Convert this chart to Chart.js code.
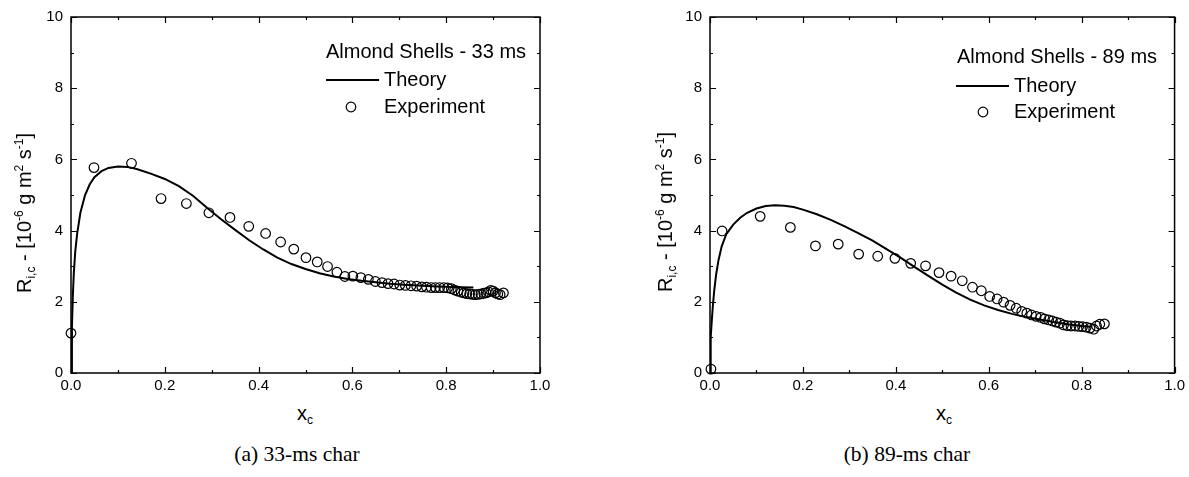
<!DOCTYPE html>
<html><head><meta charset="utf-8">
<script src="https://cdn.jsdelivr.net/npm/chart.js@4.4.1/dist/chart.umd.min.js"></script>
<style>
html,body{margin:0;padding:0;background:#fff;}
body{width:1189px;height:477px;overflow:hidden;position:relative;font-family:Arial,"Liberation Sans",sans-serif;color:#000;}
canvas{position:absolute;top:0;}
.ylab{position:absolute;font-size:20px;white-space:nowrap;transform:translate(-50%,-50%) rotate(-90deg);line-height:1;}
.xlab{position:absolute;font-size:20px;white-space:nowrap;transform:translate(-50%,-50%);line-height:1;}
.cap{position:absolute;font-family:"Liberation Serif","Times New Roman",serif;font-size:21.5px;white-space:nowrap;transform:translate(-50%,-50%);line-height:1;}
.sp{font-size:60%;position:relative;top:-0.7em;}
.sb{font-size:60%;position:relative;top:0.35em;}
</style>
</head><body>
<canvas id="cA" width="595" height="400" style="left:0px"></canvas>
<canvas id="cB" width="594" height="400" style="left:595px"></canvas>
<div class="ylab" style="left:24px;top:213px">R<span class="sb">i,c</span> - [10<span class="sp">-6</span> g m<span class="sp">2</span> s<span class="sp">-1</span>]</div>
<div class="ylab" style="left:665px;top:212px">R<span class="sb">i,c</span> - [10<span class="sp">-6</span> g m<span class="sp">2</span> s<span class="sp">-1</span>]</div>
<div class="xlab" style="left:305px;top:413px">x<span class="sb">c</span></div>
<div class="xlab" style="left:944px;top:413px">x<span class="sb">c</span></div>
<div class="cap" style="left:297px;top:455px">(a) 33-ms char</div>
<div class="cap" style="left:907px;top:455px">(b) 89-ms char</div>
<script>
// ---- Data ----
const xTickLabels = ['0.0','0.2','0.4','0.6','0.8','1.0'];
const yTickLabels = ['0','2','4','6','8','10'];
const xMinorTicks = [0.1,0.3,0.5,0.7,0.9];
const yMinorTicks = [1,3,5,7,9];

const theoryA_x = [0,0.002,0.004,0.006,0.009,0.013,0.02,0.03,0.04,0.05,0.065,0.08,0.1,0.12,0.14,0.17,0.2,0.23,0.26,0.29,0.32,0.35,0.38,0.41,0.44,0.47,0.5,0.53,0.56,0.59,0.62,0.65,0.68,0.71,0.74,0.77,0.8,0.83,0.858];
const theoryA_y = [0,1.3,2.2,2.8,3.4,3.9,4.5,5.0,5.3,5.5,5.67,5.76,5.80,5.79,5.73,5.6,5.45,5.25,4.98,4.64,4.32,4.02,3.73,3.47,3.24,3.06,2.92,2.80,2.71,2.64,2.59,2.55,2.51,2.48,2.46,2.44,2.42,2.41,2.40];
const expA_x = [0.000,0.049,0.129,0.192,0.246,0.294,0.339,0.379,0.415,0.447,0.475,0.501,0.525,0.547,0.567,0.584,0.601,0.618,0.634,0.649,0.663,0.676,0.689,0.701,0.713,0.725,0.737,0.748,0.758,0.768,0.777,0.786,0.795,0.803,0.811,0.818,0.825,0.832,0.838,0.844,0.850,0.856,0.862,0.868,0.874,0.880,0.885,0.890,0.895,0.900,0.905,0.910,0.915,0.922];
const expA_y = [1.12,5.77,5.89,4.90,4.76,4.50,4.37,4.12,3.92,3.68,3.48,3.24,3.12,2.99,2.83,2.71,2.72,2.68,2.63,2.57,2.54,2.51,2.50,2.47,2.46,2.45,2.44,2.42,2.41,2.40,2.40,2.40,2.40,2.39,2.37,2.33,2.30,2.27,2.25,2.23,2.22,2.21,2.20,2.21,2.22,2.24,2.25,2.28,2.32,2.30,2.25,2.22,2.20,2.25];

const theoryB_x = [0,0.001,0.002,0.004,0.006,0.009,0.013,0.018,0.025,0.035,0.05,0.065,0.08,0.1,0.12,0.14,0.16,0.18,0.2,0.23,0.26,0.29,0.32,0.35,0.38,0.41,0.44,0.47,0.5,0.53,0.56,0.59,0.62,0.65,0.68,0.71,0.74,0.77,0.8,0.82];
const theoryB_y = [0,0.6,1.0,1.5,1.86,2.3,2.75,3.15,3.55,3.9,4.17,4.36,4.5,4.62,4.69,4.71,4.70,4.66,4.59,4.46,4.3,4.12,3.92,3.72,3.48,3.24,2.98,2.73,2.48,2.26,2.06,1.9,1.77,1.66,1.57,1.5,1.43,1.37,1.32,1.3];
const expB_x = [0.002,0.026,0.108,0.173,0.227,0.276,0.320,0.361,0.398,0.432,0.464,0.493,0.519,0.543,0.565,0.584,0.602,0.618,0.632,0.646,0.659,0.671,0.682,0.692,0.702,0.712,0.720,0.729,0.737,0.745,0.753,0.761,0.769,0.777,0.786,0.794,0.802,0.810,0.818,0.826,0.832,0.839,0.849];
const expB_y = [0.11,3.99,4.40,4.09,3.57,3.62,3.34,3.28,3.22,3.08,3.01,2.82,2.72,2.59,2.41,2.31,2.15,2.08,1.99,1.90,1.82,1.73,1.68,1.63,1.59,1.56,1.52,1.49,1.46,1.43,1.40,1.35,1.33,1.32,1.32,1.31,1.30,1.29,1.26,1.23,1.32,1.37,1.38];

const FONT = 'Arial, "Liberation Sans", sans-serif';
Chart.defaults.font.family = FONT;
Chart.defaults.color = '#000';
const MARK_R = 4.8;

const framePlugin = {
  id: 'frame',
  afterDraw(chart, args, o) {
    const {ctx, chartArea: a, scales: {x, y}} = chart;
    ctx.save();
    ctx.strokeStyle = '#000';
    ctx.lineWidth = 1.2;
    ctx.beginPath();
    const xs = x.ticks.map(t => [t.value, 6]).concat(xMinorTicks.map(v => [v, 3]));
    xs.forEach(([v, L]) => {
      const px = Math.round(x.getPixelForValue(v)) + 0.5;
      ctx.moveTo(px, a.bottom); ctx.lineTo(px, a.bottom - L);
      ctx.moveTo(px, a.top); ctx.lineTo(px, a.top + L);
    });
    const ys = y.ticks.map(t => [t.value, 6]).concat(yMinorTicks.map(v => [v, 3]));
    ys.forEach(([v, L]) => {
      const py = Math.round(y.getPixelForValue(v)) + 0.5;
      ctx.moveTo(a.left, py); ctx.lineTo(a.left + L, py);
      ctx.moveTo(a.right, py); ctx.lineTo(a.right - L, py);
    });
    ctx.stroke();
    ctx.lineWidth = 1.5;
    ctx.strokeRect(a.left, a.top, a.right - a.left, a.bottom - a.top);
    // legend
    ctx.fillStyle = '#000';
    ctx.font = '20px ' + FONT;
    ctx.textBaseline = 'middle';
    ctx.textAlign = 'left';
    const L = a.left;
    ctx.fillText(o.title, L + o.tx, o.ty);
    ctx.lineWidth = 2;
    ctx.beginPath();
    ctx.moveTo(L + o.lx0, o.ly); ctx.lineTo(L + o.lx1, o.ly);
    ctx.stroke();
    ctx.fillText(chart.data.datasets[0].label, L + o.textx, o.ly);
    ctx.lineWidth = 1.2;
    ctx.beginPath();
    ctx.arc(L + o.cx, o.cy, MARK_R, 0, Math.PI * 2);
    ctx.stroke();
    ctx.fillText(chart.data.datasets[1].label, L + o.textx, o.cy);
    ctx.restore();
  }
};

function pts(xs, ys) { return xs.map((v, i) => ({x: v, y: ys[i]})); }

function makeChart(id, tx, ty, ex, ey, leg, yw, padR) {
  return new Chart(document.getElementById(id), {
    type: 'scatter',
    data: { datasets: [
      { label: 'Theory', data: pts(tx, ty), showLine: true, pointRadius: 0, pointHoverRadius: 0,
        borderColor: '#000', borderWidth: 2, tension: 0, fill: false },
      { label: 'Experiment', data: pts(ex, ey), showLine: false, pointRadius: MARK_R, pointHoverRadius: MARK_R,
        pointBorderWidth: 1.2, borderColor: '#000', backgroundColor: 'rgba(0,0,0,0)', clip: false }
    ]},
    options: {
      responsive: false, animation: false, devicePixelRatio: 1, events: [],
      layout: { padding: { left: 0, top: 16, right: padR, bottom: 0 } },
      plugins: { legend: { display: false }, tooltip: { enabled: false }, frame: leg },
      scales: {
        x: { type: 'linear', min: 0, max: 1,
             afterFit(s) { s.height = 27; },
             grid: { display: false, drawTicks: false }, border: { display: false },
             ticks: { stepSize: 0.2, padding: 4, color: '#000', font: { size: 15 }, maxRotation: 0,
                      callback: (v, i) => xTickLabels[i] } },
        y: { type: 'linear', min: 0, max: 10,
             afterFit(s) { s.width = yw; },
             grid: { display: false, drawTicks: false }, border: { display: false },
             ticks: { stepSize: 2, padding: 8, color: '#000', font: { size: 15 },
                      callback: (v, i) => yTickLabels[i] } }
      }
    },
    plugins: [framePlugin]
  });
}

makeChart('cA', theoryA_x, theoryA_y, expA_x, expA_y,
  { title: 'Almond Shells - 33 ms', tx: 255, ty: 52, lx0: 255, lx1: 308, ly: 80, textx: 313, cx: 280, cy: 107 },
  71, 55);
makeChart('cB', theoryB_x, theoryB_y, expB_x, expB_y,
  { title: 'Almond Shells - 89 ms', tx: 247, ty: 57, lx0: 246, lx1: 299, ly: 86, textx: 304, cx: 273, cy: 112 },
  115, 12);
</script>
</body></html>
